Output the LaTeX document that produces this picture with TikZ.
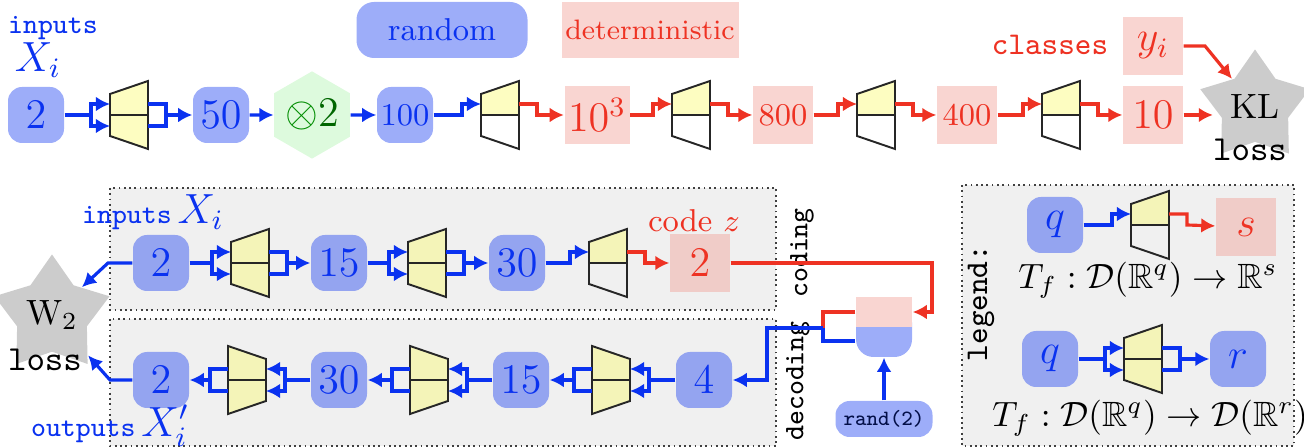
\documentclass[tikz,border=0pt]{standalone}
\usepackage{amsmath, amssymb}
\usepackage{xcolor}
\usepackage{tikz}
\usetikzlibrary{shapes,arrows.meta,positioning,calc}

\definecolor{myblue}{RGB}{10,50,240}
\definecolor{myred}{RGB}{238,50,35}
\definecolor{mypink}{RGB}{240,150,140}
\definecolor{myyellow}{RGB}{250,250,100}
\definecolor{mygreen}{RGB}{170,242,170}
\definecolor{panelgray}{gray}{0.94}

\tikzset{
  pics/enclayer/.style={code={
    \fill[layerfill] (-19,-21) -- (19,-34) -- (19,34) -- (-19,21) -- cycle;
    \draw[layeredge] (-19,-21) -- (19,-34) -- (19,34) -- (-19,21) -- cycle (-19,0) -- (19,0);
    \coordinate (-in1) at (-19,-11); \coordinate (-in2) at (-19,11);
    \coordinate (-out1) at (19,-11); \coordinate (-out2) at (19,11);
    \coordinate (-fork) at (-38,0); \coordinate (-join) at (37,0);
  }},
  pics/detlayer/.style={code={
    \fill[layerfill] (-19,-21) -- (19,-34) -- (19,0) -- (-19,0) -- cycle;
    \draw[layeredge] (-19,-21) -- (19,-34) -- (19,34) -- (-19,21) -- cycle (-19,0) -- (19,0);
    \coordinate (-in1) at (-19,-11);
    \coordinate (-out1) at (19,-11);
    \coordinate (-fork) at (-38,0); \coordinate (-join) at (37,0);
  }},
  pics/declayer/.style={code={
    \fill[layerfill] (-19,-34) -- (19,-21) -- (19,21) -- (-19,34) -- cycle;
    \draw[layeredge] (-19,-34) -- (19,-21) -- (19,21) -- (-19,34) -- cycle (-19,0) -- (19,0);
    \coordinate (-in1) at (19,-11); \coordinate (-in2) at (19,11);
    \coordinate (-out1) at (-19,-11); \coordinate (-out2) at (-19,11);
    \coordinate (-fork) at (38,0); \coordinate (-join) at (-37,0);
  }}
}

\begin{document}
\begin{tikzpicture}[x=0.1mm, y=-0.1mm,
    rbox/.style={rectangle, rounded corners=4pt, fill=myblue, fill opacity=0.4, text opacity=1, text=myblue, minimum width=0.56cm, minimum height=0.56cm, inner sep=1pt, font=\large},
    dbox/.style={rectangle, fill=mypink, fill opacity=0.4, text opacity=1, text=myred, minimum width=0.6cm, minimum height=0.58cm, inner sep=1pt, font=\large},
    hexa/.style={regular polygon, regular polygon sides=6, shape border rotate=30, fill=mygreen, fill opacity=0.4, text opacity=1, text=green!40!black, minimum size=0.68cm, inner sep=0pt, font=\large},
    lossstar/.style={star, star points=5, star point ratio=1.65, fill=gray!40, inner sep=0pt, minimum size=0.86cm},
    zbot/.style={rectangle, rounded corners=5pt, fill=myblue!40, minimum width=0.56cm, minimum height=0.52cm},
    ztop/.style={rectangle, fill=mypink!40, minimum width=0.56cm, minimum height=0.3cm},
    panel/.style={draw=black!75, densely dotted, fill=panelgray, line width=0.5pt},
    txt/.style={inner sep=1pt},
    layerfill/.style={fill=myyellow, fill opacity=0.4},
    layeredge/.style={draw=black!85, line width=0.55pt},
    bline/.style={draw=myblue, line width=0.9pt},
    rline/.style={draw=myred, line width=0.9pt},
    barrow/.style={bline, ->, >={Latex[length=4pt,width=4.2pt]}},
    rarrow/.style={rline, ->, >={Latex[length=4pt,width=4.2pt]}}
]
\useasboundingbox (0,0) rectangle (1304,448);

% panels
\draw[panel] (110,188) rectangle (776,310);
\draw[panel] (110,319) rectangle (776,446);
\draw[panel] (962,185) rectangle (1294,446);

% key
\node[rbox, rounded corners=5pt, minimum width=1.71cm, font=\small] (krand) at (442,30) {random};
\node[dbox, minimum width=1.77cm, minimum height=0.56cm, font=\footnotesize] (kdet) at (650,30) {deterministic};

% classifier
\node[txt, text=myblue, font=\footnotesize\ttfamily] (tin) at (53,28) {inputs};
\node[txt, text=myblue, font=\large] (tX) at (38,60) {$X_i$};
\node[rbox] (a2) at (36,115) {$2$};
\pic (E1) at (129,115) {enclayer};
\node[rbox] (a50) at (221,115) {$50$};
\node[hexa] (h2) at (312,115) {{\color{green!55!black}$\otimes$}$2$};
\node[rbox, font=\small] (a100) at (405,115) {$100$};
\pic (D1) at (500,115) {detlayer};
\node[dbox] (a1000) at (597,115) {$10^3$};
\pic (D2) at (691,115) {detlayer};
\node[dbox, font=\small] (a800) at (783,115) {$800$};
\pic (D3) at (876,115) {detlayer};
\node[dbox, font=\small] (a400) at (967,115) {$400$};
\pic (D4) at (1061,115) {detlayer};
\node[dbox] (a10) at (1153,115) {$10$};
\node[lossstar] (KL) at (1255,107) {KL};
\node[txt, font=\ttfamily] (KLloss) at (1250,150) {loss};
\node[dbox] (yi) at (1153,46) {$y_i$};
\node[txt, text=myred, font=\small\ttfamily] (tcl) at (1050,45) {classes};
\coordinate (ya) at (1205,46);

\draw[bline] (a2) -- (E1-fork);
\draw[barrow] (E1-fork) |- (E1-in1);
\draw[barrow] (E1-fork) |- (E1-in2);
\draw[bline] (E1-out1) -| (E1-join) |- (E1-out2);
\draw[barrow] (E1-join) -- (a50);
\draw[barrow] (a50) -- (h2);
\draw[barrow] (h2) -- (a100);
\draw[barrow] (a100) -- (D1-fork) |- (D1-in1);
\draw[rarrow] (D1-out1) -| (D1-join) -- (a1000);
\draw[rarrow] (a1000) -- (D2-fork) |- (D2-in1);
\draw[rarrow] (D2-out1) -| (D2-join) -- (a800);
\draw[rarrow] (a800) -- (D3-fork) |- (D3-in1);
\draw[rarrow] (D3-out1) -| (D3-join) -- (a400);
\draw[rarrow] (a400) -- (D4-fork) |- (D4-in1);
\draw[rarrow] (D4-out1) -| (D4-join) -- (a10);
\draw[rarrow] (a10) -- (a10 -| KL.180);
\draw[rarrow] (yi) -- (ya) -- (KL);

% coding
\node[txt, text=myblue] (tin2) at (153,212) {{\footnotesize\ttfamily inputs}\,{\large$X_i$}};
\node[rbox] (b2) at (161,263) {$2$};
\pic (E2) at (250,263) {enclayer};
\node[rbox] (b15) at (339,263) {$15$};
\pic (E3) at (427,263) {enclayer};
\node[rbox] (b30) at (517,263) {$30$};
\pic (D5) at (608,263) {detlayer};
\node[dbox] (bz) at (700,263) {$2$};
\node[txt, text=myred, font=\small] (tz) at (694,221) {code $z$};

\draw[bline] (b2) -- (E2-fork);
\draw[barrow] (E2-fork) |- (E2-in1);
\draw[barrow] (E2-fork) |- (E2-in2);
\draw[bline] (E2-out1) -| (E2-join) |- (E2-out2);
\draw[barrow] (E2-join) -- (b15);
\draw[bline] (b15) -- (E3-fork);
\draw[barrow] (E3-fork) |- (E3-in1);
\draw[barrow] (E3-fork) |- (E3-in2);
\draw[bline] (E3-out1) -| (E3-join) |- (E3-out2);
\draw[barrow] (E3-join) -- (b30);
\draw[barrow] (b30) -- (D5-fork) |- (D5-in1);
\draw[rarrow] (D5-out1) -| (D5-join) -- (bz);

% decoding
\node[rbox] (c4) at (704,380) {$4$};
\pic (P1) at (611,380) {declayer};
\node[rbox] (c15) at (521,380) {$15$};
\pic (P2) at (429,380) {declayer};
\node[rbox] (c30) at (339,380) {$30$};
\pic (P3) at (247,380) {declayer};
\node[rbox] (c2) at (161,380) {$2$};
\node[txt, text=myblue] (tout) at (110,426) {{\footnotesize\ttfamily outputs}\,{\large$X'_i$}};

\draw[bline] (c4) -- (P1-fork);
\draw[barrow] (P1-fork) |- (P1-in1);
\draw[barrow] (P1-fork) |- (P1-in2);
\draw[bline] (P1-out1) -| (P1-join) |- (P1-out2);
\draw[barrow] (P1-join) -- (c15);
\draw[bline] (c15) -- (P2-fork);
\draw[barrow] (P2-fork) |- (P2-in1);
\draw[barrow] (P2-fork) |- (P2-in2);
\draw[bline] (P2-out1) -| (P2-join) |- (P2-out2);
\draw[barrow] (P2-join) -- (c30);
\draw[bline] (c30) -- (P3-fork);
\draw[barrow] (P3-fork) |- (P3-in1);
\draw[barrow] (P3-fork) |- (P3-in2);
\draw[bline] (P3-out1) -| (P3-join) |- (P3-out2);
\draw[barrow] (P3-join) -- (c2);

% sampling code + noise
\node[zbot] (zout) at (884,331) {};
\node[ztop] (zin) at (884,312) {};
\node[rbox, font=\fontsize{6.2}{7}\selectfont\ttfamily, text=black!70!myblue, minimum width=0.97cm, minimum height=0.36cm] (rand2) at (884,419) {rand(2)};
\node[txt, rotate=90, font=\footnotesize\ttfamily] (tcod) at (802,253) {coding};
\node[txt, rotate=90, font=\footnotesize\ttfamily] (tdec) at (798,381) {decoding};
\coordinate (zr) at (932,312);
\coordinate (zj) at (823,328);
\coordinate (zd) at (767,328);
\draw[rarrow] (bz) -| (zr) -- (zin);
\draw[rline] (zin) -| (zj);
\draw[bline] ([yshift=-1mm]zout.west) -| (zj);
\draw[barrow] (zj) -- (zd) |- (c4);
\draw[barrow] (rand2) -- (zout);

% W2 loss
\node[lossstar, minimum size=0.84cm] (W2) at (52,315) {W$_2$};
\node[txt, font=\ttfamily] (W2loss) at (45,360) {loss};
\coordinate (wa) at (108,263);
\coordinate (wb) at (110,380);
\draw[barrow] (b2) -- (wa) -- (W2);
\draw[barrow] (c2) -- (wb) -- (W2);

% legend
\node[txt, rotate=90, font=\small\ttfamily] (tleg) at (981,303) {legend:};
\node[rbox] (lq1) at (1055,225) {$q$};
\pic (L1) at (1150,225) {detlayer};
\node[dbox] (ls) at (1246,227) {$s$};
\node[txt] (f1) at (1148,280) {$T_f : \mathcal{D}(\mathbb{R}^q) \to \mathbb{R}^s$};
\node[rbox] (lq2) at (1050,359) {$q$};
\pic (L2) at (1143,359) {enclayer};
\node[rbox] (lr) at (1238,359) {$r$};
\node[txt] (f2) at (1150,418) {$T_f : \mathcal{D}(\mathbb{R}^q) \to \mathcal{D}(\mathbb{R}^r)$};

\draw[barrow] (lq1) -- (L1-fork) |- (L1-in1);
\draw[rarrow] (L1-out1) -| (L1-join) -- (ls);
\draw[bline] (lq2) -- (L2-fork);
\draw[barrow] (L2-fork) |- (L2-in1);
\draw[barrow] (L2-fork) |- (L2-in2);
\draw[bline] (L2-out1) -| (L2-join) |- (L2-out2);
\draw[barrow] (L2-join) -- (lr);

\end{tikzpicture}
\end{document}
